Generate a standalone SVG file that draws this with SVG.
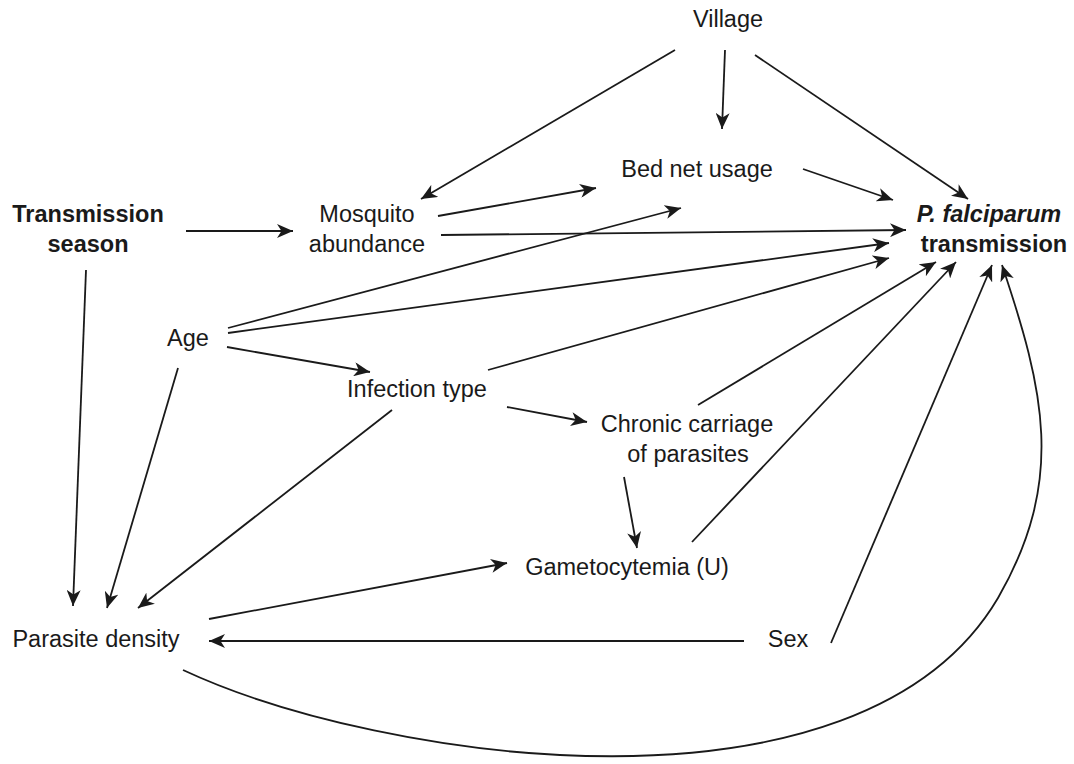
<svg xmlns="http://www.w3.org/2000/svg" width="1074" height="764" viewBox="0 0 1074 764">
<style>
  text { font-family: "Liberation Sans", Arial, sans-serif; font-size: 23.5px; fill: #1a1a1a; text-anchor: middle; }
  .b { font-weight: bold; }
  .bi { font-weight: bold; font-style: italic; }
  .e { stroke: #1a1a1a; stroke-width: 1.8; fill: none; marker-end: url(#ah); }
</style>
<defs>
  <marker id="ah" markerUnits="userSpaceOnUse" viewBox="0 0 16 14" refX="16" refY="7" markerWidth="16" markerHeight="14" orient="auto">
    <path d="M0,0 L16,7 L0,14 L4.5,7 z" fill="#1a1a1a"/>
  </marker>
</defs>
<rect width="1074" height="764" fill="#ffffff"/>
<g id="connectors">
  <line class="e" x1="675" y1="50" x2="421" y2="199"/>
  <line class="e" x1="725" y1="50" x2="722" y2="129"/>
  <line class="e" x1="755" y1="55" x2="968" y2="199"/>
  <line class="e" x1="803" y1="169" x2="893" y2="200"/>
  <line class="e" x1="438" y1="216" x2="596" y2="188"/>
  <line class="e" x1="441" y1="235" x2="906" y2="230"/>
  <line class="e" x1="228" y1="328" x2="681" y2="208"/>
  <line class="e" x1="228" y1="333" x2="889" y2="243"/>
  <line class="e" x1="488" y1="370" x2="889" y2="258"/>
  <line class="e" x1="227" y1="347" x2="370" y2="372"/>
  <line class="e" x1="186" y1="231" x2="293" y2="231"/>
  <line class="e" x1="86" y1="270" x2="73" y2="606"/>
  <line class="e" x1="178" y1="368" x2="107" y2="608"/>
  <line class="e" x1="392" y1="410" x2="138" y2="608"/>
  <line class="e" x1="507" y1="407" x2="587" y2="422"/>
  <line class="e" x1="698" y1="405" x2="936" y2="262"/>
  <line class="e" x1="624" y1="477" x2="637" y2="548"/>
  <line class="e" x1="692" y1="542" x2="956" y2="262"/>
  <line class="e" x1="209" y1="619" x2="507" y2="563"/>
  <line class="e" x1="744" y1="641" x2="209" y2="641"/>
  <line class="e" x1="831" y1="643" x2="992" y2="265"/>
  <path class="e" d="M183,670 C380,762 860,832 998,598 C1066,480 1044,390 1002,265"/>
</g>
<g id="village"><text x="728" y="27">Village</text></g>
<g id="bednet"><text x="697" y="177">Bed net usage</text></g>
<g id="season"><text class="b" x="88" y="222">Transmission</text><text class="b" x="88" y="252">season</text></g>
<g id="mosquito"><text x="367" y="222">Mosquito</text><text x="367" y="252">abundance</text></g>
<g id="pf"><text class="bi" x="989" y="222">P. falciparum</text><text class="b" x="994" y="252">transmission</text></g>
<g id="age"><text x="188" y="346">Age</text></g>
<g id="infection"><text x="417" y="397">Infection type</text></g>
<g id="chronic"><text x="687" y="432">Chronic carriage</text><text x="688" y="462">of parasites</text></g>
<g id="gameto"><text x="627" y="575">Gametocytemia (U)</text></g>
<g id="sex"><text x="788" y="647">Sex</text></g>
<g id="density"><text x="96" y="647">Parasite density</text></g>
</svg>
